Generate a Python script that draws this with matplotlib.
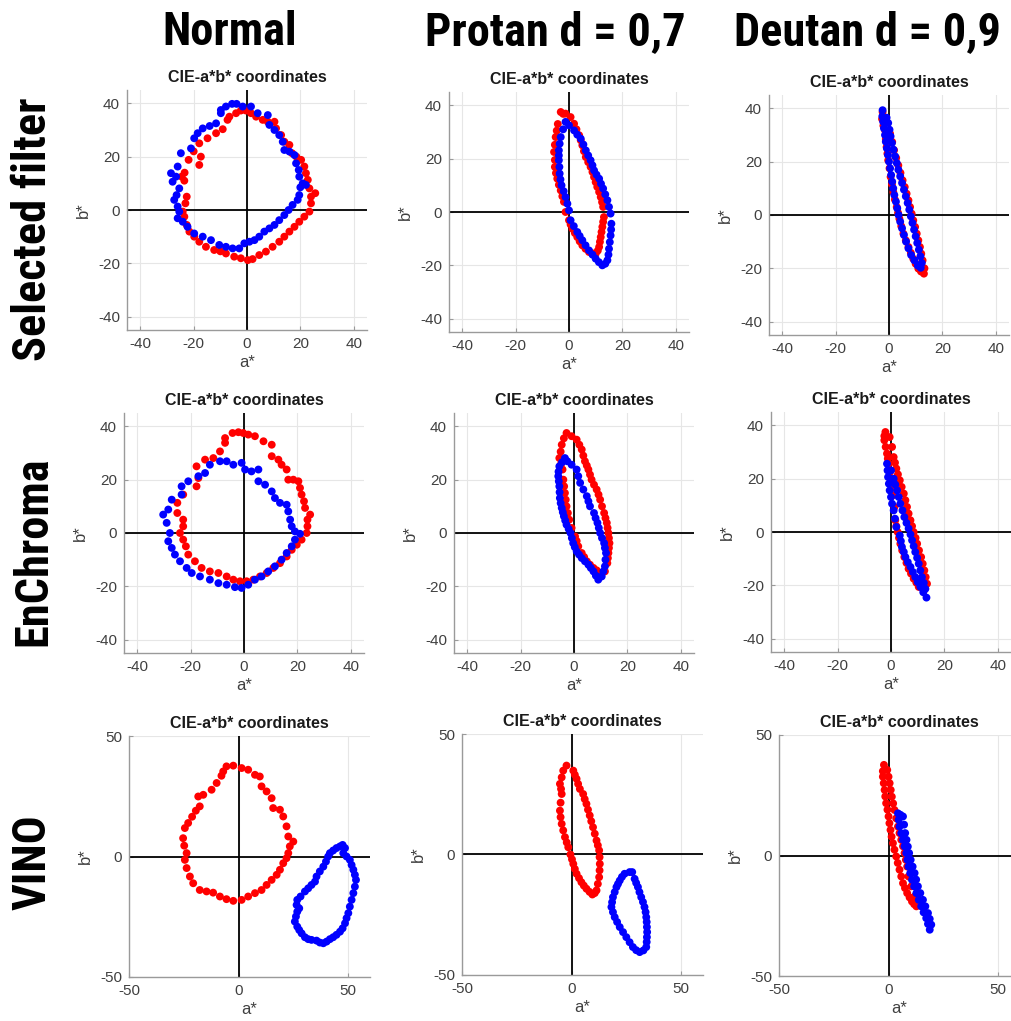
import numpy as np
import matplotlib.pyplot as plt
from matplotlib import font_manager

plt.rcParams['font.family'] = ['Liberation Sans', 'DejaVu Sans']
plt.rcParams['axes.unicode_minus'] = False

col_titles = ["Normal", "Protan d = 0,7", "Deutan d = 0,9"]
row_titles = ["Selected filter", "EnChroma", "VINO"]
panel_title = "CIE-a*b* coordinates"

# (a*, b*) points, red = reference, blue = with filter
sel_normal_red = [(-7.3, 33.8), (-6.6, 35), (-4.1, 36.3), (-2.3, 37.3), (-0.4, 37.3), (1.5, 36.3),
                  (3.4, 35), (5.9, 33.8), (7.8, 33.1), (10.3, 33.1), (10.9, 30.6), (12.8, 28.1),
                  (14, 25.6), (15.9, 24.4), (16.9, 21.3), (18.5, 20), (20.3, 18.8), (21.5, 16.3),
                  (22.1, 13.8), (22.8, 11.3), (23.4, 8.1), (25.6, 6.3), (24, 5), (24, 2.5),
                  (23.4, -0.6), (21.5, -2.5), (19.6, -4.4), (17.8, -6.3), (15.9, -8.1), (14, -10),
                  (12.1, -11.9), (9.6, -13.8), (7.1, -15.6), (4.6, -16.9), (2.1, -18.4), (0.3, -18.8),
                  (-2.3, -18.1), (-4.8, -17.5), (-7.9, -16.3), (-10, -15.5), (-12.3, -15), (-15.4, -13.8),
                  (-17.9, -11.9), (-19.8, -10), (-21.6, -8.1), (-22.6, -5.6), (-23.5, -2.5), (-24.1, -0.6),
                  (-23.1, 2.5), (-22.6, 5), (-23.5, 11), (-24.5, 12.5), (-23.4, 14), (-21.9, 18.8),
                  (-20, 22), (-17.9, 25), (-14.8, 26.9), (-11.6, 28.8), (-9.1, 30.3), (-17.3, 20),
                  (-17.9, 16.9)]
sel_normal_blue = [(-9.8, 37.5), (-7.9, 38.8), (-5.6, 39.8), (-3.9, 39.8), (-1.6, 38.8), (1.5, 38.8),
                   (4, 36.3), (7.8, 35.6), (8.4, 31.9), (10.3, 30), (12.1, 28.1), (13.4, 25.6),
                   (14, 22.5), (15.9, 21.9), (17.8, 20.6), (18.4, 17.5), (19.4, 15), (19.6, 12.5),
                   (20.9, 10), (20, 8.5), (22.1, 9.4), (19.6, 5.6), (19, 3.8), (17.1, 1.9),
                   (15.6, 0), (14, -1.9), (12.1, -3.8), (10.3, -5.6), (8.4, -6.9), (6.5, -8.1),
                   (4.6, -10), (2.8, -11.3), (0.9, -11.9), (-1, -12.5), (-2.9, -14.4), (-5.4, -14.4),
                   (-7.9, -13.8), (-10.4, -13.1), (-13.5, -11.3), (-16.6, -10), (-19.8, -8.8), (-22.3, -6.3),
                   (-24.1, -4.4), (-26, -3.1), (-25.4, -0.6), (-26, 1.3), (-27.3, 3.8), (-26.4, 5.6),
                   (-25.4, 8.1), (-27.9, 10.6), (-26.6, 12.5), (-28.5, 13.8), (-26, 16.3), (-24.8, 21.3),
                   (-21, 23.1), (-19.8, 26.9), (-18.5, 28.8), (-16.6, 30.6), (-14, 31.5), (-11.6, 32.5),
                   (-9.8, 36.3)]

sel_protan_red = [(-3.1, 37.5), (-2.2, 36.8), (-4.2, 33), (-4.6, 30.5), (-5, 28.1), (-5.3, 25.2),
                  (-5.6, 22.5), (-5.3, 19.5), (-5.3, 16.9), (-4.9, 14.6), (-4.4, 12.5), (-3.8, 10.2),
                  (-3.1, 8.1), (-2.5, 5.9), (-1.9, 3.8), (-1.3, 0), (0, -3.1), (0.6, -4.7), (1.3, -6.3),
                  (2.2, -7.9), (3.1, -9.4), (4, -11), (5, -12.5), (6.2, -13.8), (7.5, -15), (8.8, -15.5),
                  (10, -15.6), (10.8, -14.5), (11.3, -13.1), (11.6, -11.2), (11.9, -9.4), (12.2, -7.5),
                  (12.5, -5.6), (12.8, -3.7), (13.1, -1.9), (12.8, 1.9), (12.4, 3.7), (11.9, 5.6),
                  (11.3, 7.5), (10.6, 9.4), (10, 11.2), (9.4, 13.1), (8.8, 15), (8.1, 16.9), (7.2, 18.7),
                  (6.3, 20.6), (5.6, 22.8), (5, 25), (4.4, 26.9), (3.8, 28.8), (2.8, 31), (1.9, 33.1),
                  (0.6, 35.6), (-1.3, 36.9)]
sel_protan_blue = [(-1.3, 33.8), (-2.2, 31), (-3.1, 28.1), (-3.5, 25.6), (-3.8, 23.1), (-3.8, 21.2),
                   (-3.8, 19.4), (-3.6, 16.9), (-3.5, 14.4), (-3.2, 12.2), (-2.8, 10), (-2, 7.8),
                   (-1.3, 5.6), (-0.6, 3.1), (0, 0.6), (0.6, -3.1), (1.8, -5.3), (3.1, -7.5), (4, -9),
                   (5, -10.6), (6.2, -12.5), (7.5, -14.4), (8.8, -16), (10, -17.5), (11.2, -18.8),
                   (12.5, -20), (13.6, -19.4), (14.4, -18.1), (14.8, -16), (15, -13.8), (15.3, -11.3),
                   (15.6, -8.8), (15.8, -6.6), (15.9, -4.4), (15.6, -0.6), (15, 1.9), (14.4, 4.4),
                   (13.6, 6.6), (12.8, 8.8), (12, 10.6), (11.3, 12.5), (10.3, 14), (9.4, 15.6),
                   (8.8, 17.5), (8.1, 19.4), (7.2, 21.2), (6.3, 23.1), (5.4, 25.3), (4.4, 27.5),
                   (3.1, 29), (1.9, 30.6), (0, 32.5)]

sel_deutan_red = [(-2.4, 38.6), (-2.6, 36), (-2.1, 33.5), (-1.5, 31.8), (-1.2, 28.5), (-0.9, 25.5),
                  (-0.6, 23), (-0.3, 20.5), (0.2, 17.5), (0.6, 14.3), (1.1, 11.5), (1.6, 8.6),
                  (2.2, 5.8), (2.9, 3), (3.4, 0.8), (3.9, -1.4), (4.6, -4.2), (5.4, -7), (6.3, -9.5),
                  (7.3, -12), (8.2, -14.2), (9.1, -16.4), (10, -18.3), (11, -20.1), (12, -21.2),
                  (13.1, -22), (13.3, -20), (12.6, -17), (12.1, -14.5), (11.6, -12), (11, -9.5),
                  (10.4, -7), (9.8, -4.5), (9.1, -2), (8.5, 0.5), (7.9, 3), (7.3, 5.5), (6.6, 8),
                  (5.9, 10.5), (5.1, 13), (4.3, 15.8), (3.5, 18.6), (2.7, 21.4), (1.9, 24.3),
                  (1.2, 27.4), (0.4, 30.5), (-0.9, 34.9)]
sel_deutan_blue = [(-2.4, 39.3), (-2.5, 37), (-2.2, 35), (-1.9, 32.5), (-1.5, 30), (-1.2, 27.5),
                   (-0.8, 25), (-0.4, 22.5), (0, 20), (0.4, 17.5), (0.8, 15), (1.2, 12.5), (1.6, 10),
                   (2, 7.5), (2.6, 5), (3.1, 2.5), (3.6, 0), (4.2, -2.5), (4.9, -5), (5.6, -7.5),
                   (6.4, -10), (7.3, -12.5), (8.3, -15), (9.5, -17), (10.8, -19), (11.9, -19.8),
                   (12.3, -18), (11.8, -15.5), (11.2, -13), (10.6, -10.5), (10, -8), (9.4, -5.5),
                   (8.8, -3), (8.2, -0.5), (7.6, 2), (7, 4.5), (6.3, 7), (5.6, 9.5), (4.9, 12),
                   (4.2, 14.5), (3.5, 17), (2.9, 19.5), (2.3, 22), (1.7, 24.5), (1.1, 27), (0.6, 29.5),
                   (0.2, 32), (-0.3, 34.5), (-0.9, 36.5)]

enc_normal_red = [(-4.3, 37.5), (-2.1, 37.8), (-0.3, 37.5), (1.6, 36.9), (4.1, 36.3), (7.3, 34.4),
                  (10.4, 33.1), (10.4, 28.8), (12.9, 27.5), (14.1, 25.6), (16, 23.8), (16.6, 20),
                  (18.5, 20), (20.4, 19.4), (21, 16.9), (21.6, 14.4), (22.5, 11.9), (22.9, 9.4),
                  (24.8, 6.9), (23.8, 5), (23.8, 2.5), (23.5, 0), (21.6, -2.5), (19.8, -4.4),
                  (17.9, -6.3), (16, -8.8), (13.5, -11.3), (11, -13.1), (8.5, -15), (6, -16.3),
                  (3.5, -17.5), (1, -18.1), (-1.5, -18.1), (-4, -17.5), (-6.5, -16.3), (-9.6, -15),
                  (-12.8, -14.4), (-15.9, -13.1), (-18.4, -10.6), (-20.9, -8.1), (-21.8, -5),
                  (-22.8, -2.5), (-24, 0), (-22.8, 2.5), (-22.8, 5), (-25, 7.5), (-25, 11.3),
                  (-22.8, 14.4), (-17.8, 17.5), (-17.1, 20.6), (-17.8, 25), (-14.6, 27.5),
                  (-11.5, 28.1), (-9, 30.6), (-7.1, 33.8), (-7.1, 35.6)]
enc_normal_blue = [(-9, 26.9), (-6.5, 26.9), (-4, 25.6), (-0.9, 26.3), (0.4, 23.8), (2.8, 23.1),
                   (5.4, 23.8), (5.4, 19.4), (7.9, 18.1), (10.4, 15.6), (11.6, 13.1), (13.5, 11.3),
                   (16, 10.6), (16.6, 8.1), (17.3, 5), (17.9, 2.5), (19.1, 0.6), (21, -0.3),
                   (19.1, -2.5), (17.9, -5), (16, -7.5), (14.1, -10), (11.6, -12.5), (9.1, -14.4),
                   (6.6, -16.3), (4.1, -17.5), (1.6, -19.4), (-0.9, -20.6), (-3.4, -20.3),
                   (-6.5, -19.4), (-9.6, -18.8), (-12.8, -17.5), (-16.5, -16.3), (-19.6, -15),
                   (-21.5, -13.1), (-24, -10.6), (-25.9, -8.1), (-27.1, -5.6), (-28.4, -3.1),
                   (-27.8, 0), (-29, 3.8), (-30.3, 6.9), (-28.4, 8.8), (-27.1, 12.5), (-23.4, 14.4),
                   (-23.4, 17.5), (-20.9, 19.4), (-17.1, 21.3), (-14.6, 22.5), (-12.8, 25.6)]

enc_protan_red = [(-2.8, 37.5), (-3.8, 35.5), (-4.6, 33.1), (-5, 30.5), (-5.5, 28.1), (-4.8, 26),
                  (-4.3, 23.8), (-4, 20), (-3.7, 17.5), (-3.4, 15), (-3.1, 12.5), (-2.8, 10),
                  (-2.3, 7.5), (-1.8, 5), (-0.9, 1.9), (0.4, -1.3), (1, -3), (1.6, -5), (2.9, -7.5),
                  (3.8, -9), (4.8, -10.6), (6, -11.9), (7.3, -13.1), (8.5, -14), (9.8, -15),
                  (11.6, -14.4), (12.5, -11.3), (12.7, -9.4), (12.9, -7.5), (13.1, -5.6), (13.3, -3.8),
                  (13.1, -1.9), (12.9, 0), (12.6, 1.9), (12.3, 3.8), (11.8, 5.6), (11.3, 7.5),
                  (10.5, 10), (9.8, 12.5), (9.2, 14.4), (8.5, 16.3), (7.5, 18.1), (6.6, 20),
                  (6, 21.9), (5.4, 23.8), (4.8, 25.3), (4.1, 26.9), (3.5, 29), (2.9, 31.3), (2, 33.1),
                  (1, 35), (-0.9, 36.3)]
enc_protan_blue = [(-3.4, 28.1), (-4.5, 26.5), (-5.5, 25), (-5.8, 23), (-5.9, 21.3), (-5.7, 19.4),
                   (-5.5, 17.5), (-5.4, 15.3), (-5.3, 13.1), (-5, 11.2), (-4.6, 9.4), (-4.2, 7.8),
                   (-3.8, 6.3), (-3.3, 4.7), (-2.8, 3.1), (-2, 1.5), (-1.3, 0), (-0.8, -1.9),
                   (-0.3, -3.8), (0.3, -5.3), (1, -6.9), (1.9, -8.1), (2.9, -9.4), (4.1, -10.6),
                   (5.4, -11.9), (6.3, -13.1), (7.3, -14.4), (8.2, -16), (9.1, -17.5), (10.4, -16.3),
                   (11, -14.4), (11.6, -12.5), (11.8, -10), (12, -7.5), (11.6, -5.6), (11.3, -3.8),
                   (10.5, -1.9), (9.8, 0), (9.3, 1.9), (8.8, 3.8), (8.1, 5.6), (7.5, 7.5), (6, 10),
                   (5.4, 11.9), (4.8, 13.8), (3.5, 16.3), (2.3, 18.8), (1.6, 21.3), (1, 23.8),
                   (-0.9, 25.6), (-2.5, 26.9)]

enc_deutan_red = [(-2.1, 37.5), (-2.5, 36), (-2.5, 34.4), (-2, 31.9), (-1.5, 29.4), (-1.2, 27.5),
                  (-0.9, 25.6), (-0.4, 22.5), (0, 19.4), (0.4, 16.6), (0.8, 13.8), (1.3, 9.4),
                  (1.6, 4.4), (2, 2.2), (2.5, 0), (3, -2.2), (3.5, -4.4), (4.2, -6.9), (5, -9.4),
                  (5.8, -11.6), (6.6, -13.8), (7.5, -15.6), (8.5, -17.5), (9.5, -19), (10.4, -20.6),
                  (12.3, -21.9), (13.5, -19.4), (13, -16.9), (12.5, -14.4), (11.9, -11.9),
                  (11.3, -9.4), (10.5, -6.9), (9.8, -4.4), (9.2, -2.2), (8.5, 0), (7.9, 2.2),
                  (7.3, 4.4), (6.6, 6.9), (6, 9.4), (5.4, 11.9), (4.8, 14.4), (4, 16.9), (3.3, 19.4),
                  (2.6, 21.6), (2, 23.8), (1.5, 26), (1, 28.1), (0.4, 31.9), (-0.5, 35.6)]
enc_deutan_blue = [(-1.5, 25.6), (-1.3, 23.1), (-1.1, 20.6), (-0.8, 18.1), (-0.5, 15.6), (0, 13.1),
                   (0.4, 10.6), (1, 8.1), (1.5, 5), (2, 1.9), (3.3, -1.3), (3.7, -3.4), (4.1, -5.6),
                   (4.8, -7.5), (5.4, -9.4), (6.3, -11.3), (7.3, -13.1), (8.2, -15), (9.1, -16.9),
                   (10, -18.8), (11, -20.6), (12.1, -22.6), (13.3, -24.6), (12.9, -21.3),
                   (12.3, -19.1), (11.6, -16.9), (11, -14.4), (10.4, -11.9), (9.8, -9.7), (9.1, -7.5),
                   (8.5, -5.3), (7.9, -3.1), (7.3, -0.9), (6.6, 1.3), (5.8, 3.4), (5, 5.6),
                   (4.3, 8.1), (3.5, 10.6), (2.9, 13.1), (2.3, 15.6), (1.6, 17.8), (1, 20), (0, 23.1)]

vino_normal_red = [(-5.5, 37.4), (-2.4, 37.7), (1.4, 36.7), (4.4, 36), (7.5, 33.9), (9.7, 33.2),
                   (10.5, 29.1), (12.8, 27), (15.1, 24.2), (15.8, 20.1), (18.9, 19.4), (20.4, 16.6),
                   (21.9, 12.5), (22.7, 8.3), (25, 6.2), (23.4, 4.2), (22.7, 1.4), (21.9, -0.7),
                   (20.4, -2.8), (18.9, -5.5), (17.4, -7.6), (15.1, -9.7), (12.8, -11.8), (10.5, -13.9),
                   (7.5, -15.2), (4.4, -16.6), (1.4, -18), (-2.4, -18.4), (-5.5, -17.7), (-8.5, -16.6),
                   (-11.6, -15), (-14.6, -14.5), (-17.7, -13.9), (-20.7, -11.1), (-22.2, -8.3),
                   (-23.7, -4.8), (-24.5, -1.4), (-23.7, 1.4), (-24.8, 4.5), (-25.3, 7.6),
                   (-24.5, 11.8), (-23, 13.9), (-21.2, 16.5), (-19.5, 19), (-17.7, 20.8),
                   (-18.4, 24.9), (-16.1, 25.6), (-12.3, 27.7), (-10, 30.5), (-7.8, 33.5), (-7, 35.3)]
vino_normal_blue = [(49.3, 0), (50.8, -1.4), (51.6, -3.5), (52.4, -5.5), (53.1, -7.6), (53.6, -9.7),
                    (53.1, -12.5), (52.4, -15.2), (51.6, -18), (50.8, -20.8), (50.1, -23.5),
                    (49.3, -25.6), (48.6, -27.7), (47.5, -29.8), (46.3, -31.2), (44.7, -32.5),
                    (43.2, -33.5), (41.7, -34.3), (40.2, -35.3), (38.7, -36), (37.1, -35.7),
                    (35.6, -34.9), (33.3, -34.6), (31.8, -34.3), (30.3, -33.5), (28.8, -31.9),
                    (27.7, -30.5), (26.8, -29.1), (25.7, -27), (26.2, -24.9), (26.8, -22.9),
                    (27.7, -21.5), (26.5, -20.1), (26.8, -18), (28.3, -16.6), (30.3, -14.5),
                    (31.8, -13.2), (33.3, -11.8), (34.9, -10.4), (35.6, -8.3), (37.1, -6.2),
                    (38.7, -4.2), (39.9, -2.1), (40.9, 0), (41.7, 1.4), (43.2, 2.5), (44.7, 3.5),
                    (46.3, 4.2), (47.5, 4.8), (48.6, 3.5), (47.8, 1.4)]

vino_protan_red = [(-2.3, 36.9), (-3.8, 34.8), (-4.5, 32), (-5.3, 29.3), (-4.8, 27.2), (-4.5, 25.1),
                   (-5, 21.5), (-5.3, 18.2), (-5, 15.5), (-4.5, 12.7), (-3.8, 10), (-3, 7.2),
                   (-2.2, 5), (-1.5, 3), (-0.5, 0), (0.2, -2), (0.8, -3.9), (1.5, -6), (2.3, -8),
                   (3.4, -9.8), (4.5, -11.5), (5.6, -12.9), (6.8, -14.2), (8.2, -15.5), (9.5, -16.6),
                   (10.6, -16), (11.4, -14.9), (12, -12.2), (12.6, -9.4), (12.8, -6.6), (12.9, -3.9),
                   (12.8, -1.1), (12.6, 1.7), (12, 3.8), (11.4, 5.8), (10.6, 8.6), (9.8, 11.3),
                   (9, 13.8), (8.3, 16.2), (7.5, 18.6), (6.8, 21), (6, 23), (5.3, 25.1), (3.8, 27.2),
                   (3, 29.3), (2.3, 31.4), (1.5, 33.1), (0.8, 34.8)]
vino_protan_blue = [(26.5, -7.3), (24.2, -8), (23, -9.3), (22, -10.8), (21.2, -12.2), (20.5, -13.5),
                    (19.7, -15.6), (18.9, -17.7), (18.5, -19.8), (18.2, -21.8), (18.9, -23.9),
                    (19.7, -26), (20.8, -28), (22, -30.1), (23.5, -32.2), (25, -34.3), (26.5, -36.4),
                    (28, -38.4), (29.5, -39.7), (31.1, -40.5), (32.8, -39.8), (34.1, -38.4),
                    (34.3, -36.3), (34.4, -34.3), (34.5, -32.2), (34.4, -30.1), (34.3, -28),
                    (34.1, -26), (33.8, -23.9), (33.3, -21.8), (32.6, -19.7), (31.8, -17.7),
                    (31, -15.6), (30.3, -13.5), (29.5, -11.8), (28.8, -10.1), (27.7, -7.3)]

vino_deutan_red = [(-2.1, 37.6), (-2.6, 35), (-2.6, 32.7), (-2.2, 30), (-1.8, 27.2), (-1.5, 24.5),
                   (-1.1, 21.7), (-0.5, 19), (0, 16.2), (0.4, 13.4), (0.9, 10.6), (1.4, 7.8),
                   (2, 5.1), (2.7, 2.4), (3.5, -0.4), (4.2, -3.1), (5, -5.9), (5.8, -8.7), (6.6, -11.5),
                   (7.5, -13.5), (8.5, -15.6), (9.6, -17.4), (10.7, -19.1), (11.7, -20.2),
                   (12.7, -21.1), (11.9, -17), (10.4, -12.8), (9.1, -8.7), (8.5, -4.6), (7.9, -1.8),
                   (7.3, 1), (6.6, 3.8), (5.8, 6.5), (5, 9.3), (4.3, 12), (3.5, 15.4), (2.7, 18.9),
                   (2.1, 21.6), (1.5, 24.4), (1, 27.2), (0.5, 30), (0, 32.7), (-0.6, 35.5)]
vino_deutan_blue = [(4.3, 17.5), (4.6, 14.8), (5, 12), (5.8, 9.2), (6.6, 6.5), (7.3, 3.8), (8.1, 1),
                    (8.6, -1.8), (9.1, -4.6), (9.9, -7.3), (10.7, -10.1), (11.7, -12.8),
                    (12.7, -15.6), (13.8, -18.4), (14.9, -21.1), (16, -23.6), (17.2, -26),
                    (18, -28.4), (18.8, -30.8), (5.4, 16.9), (6.6, 16.2), (7.1, 12.8), (7.6, 9.3),
                    (8.2, 6.5), (8.8, 3.7), (9.4, 1), (10.1, -1.8), (11, -4.6), (11.9, -7.3),
                    (12.6, -10), (13.4, -12.8), (14.5, -15.6), (15.7, -18.4), (16.8, -21.1),
                    (18, -23.9), (18.8, -26.3), (19.5, -28.7)]

data = [[(sel_normal_red, sel_normal_blue), (sel_protan_red, sel_protan_blue), (sel_deutan_red, sel_deutan_blue)],
        [(enc_normal_red, enc_normal_blue), (enc_protan_red, enc_protan_blue), (enc_deutan_red, enc_deutan_blue)],
        [(vino_normal_red, vino_normal_blue), (vino_protan_red, vino_protan_blue), (vino_deutan_red, vino_deutan_blue)]]

W, H = 1011, 1021
# axes boxes in pixels: left, top, width, height
boxes = [[(127, 90, 240, 240), (449, 92, 240, 240), (769, 95, 240, 240)],
         [(124, 413, 240, 240), (454, 413, 240, 240), (771, 412, 240, 240)],
         [(129, 736, 241, 241), (462, 734, 241, 241), (779, 735, 241, 241)]]

fig = plt.figure(figsize=(W / 100, H / 100), dpi=100)

for r in range(3):
    for c in range(3):
        l, t, w, h = boxes[r][c]
        ax = fig.add_axes([l / W, 1 - (t + h) / H, w / W, h / H])
        red, blue = data[r][c]
        red = np.array(red)
        blue = np.array(blue)
        ax.axhline(0, color='black', lw=1.3, zorder=1)
        ax.axvline(0, color='black', lw=1.3, zorder=1)
        ax.scatter(red[:, 0], red[:, 1], s=32, color='#ff0000', edgecolors='none', zorder=2)
        ax.scatter(blue[:, 0], blue[:, 1], s=32, color='#0000ff', edgecolors='none', zorder=3)
        if r < 2:
            ax.set_xlim(-45, 45)
            ax.set_ylim(-45, 45)
            ax.set_xticks([-40, -20, 0, 20, 40])
            ax.set_yticks([-40, -20, 0, 20, 40])
        else:
            ax.set_xlim(-50, 60)
            ax.set_ylim(-50, 50)
            ax.set_xticks([-50, 0, 50])
            ax.set_yticks([-50, 0, 50])
        ax.grid(True, color='#e6e6e6', lw=0.8)
        ax.set_axisbelow(True)
        for side in ['top', 'right']:
            ax.spines[side].set_visible(False)
        for side in ['left', 'bottom']:
            ax.spines[side].set_color('#9a9a9a')
            ax.spines[side].set_linewidth(1.0)
        ax.tick_params(direction='in', length=3, width=0.8, color='#9a9a9a',
                       labelsize=11, labelcolor='#404040', pad=5)
        ax.set_title(panel_title, fontsize=11.5, fontweight='bold', color='#1a1a1a', pad=6)
        ax.set_xlabel('a*', fontsize=12, color='#404040', labelpad=3)
        ax.set_ylabel('b*', fontsize=12, color='#404040', labelpad=5)


# condensed bold face for the big headers, if one is installed
def header_props():
    fonts = font_manager.fontManager.ttflist
    for key in ['liberationsansnarrow-bold.', 'robotocondensed-bold.', 'dejavusanscondensed-bold.']:
        for f in fonts:
            if key in f.fname.lower().replace(' ', ''):
                return font_manager.FontProperties(fname=f.fname)
    for f in fonts:
        low = f.fname.lower()
        if ('condensed' in low or 'narrow' in low) and 'bold' in low and 'italic' not in low \
                and 'oblique' not in low:
            return font_manager.FontProperties(fname=f.fname)
    return font_manager.FontProperties(family='DejaVu Sans', weight='bold')


hp = header_props()
headers = []
col_x = [230, 555, 867]
col_w = [147, 276, 280]
for x, txt in zip(col_x, col_titles):
    headers.append(fig.text(x / W, 1 - 32 / H, txt, ha='center', va='center',
                            fontproperties=hp, fontsize=34))
row_y = [229, 551, 862]
row_w = [275, 147, 85]
for y, txt in zip(row_y, row_titles):
    headers.append(fig.text(33 / W, 1 - y / H, txt, ha='center', va='center', rotation=90,
                            fontproperties=hp, fontsize=34))

# scale header size so the lengths match the reference
renderer = fig.canvas.get_renderer()
measured = []
for i, tx in enumerate(headers):
    bb = tx.get_window_extent(renderer)
    measured.append(bb.width if i < 3 else bb.height)
target = col_w + row_w
scale = sum(target) / sum(measured)
for tx in headers:
    tx.set_fontsize(34 * scale)

fig.savefig('out.png', dpi=100)
